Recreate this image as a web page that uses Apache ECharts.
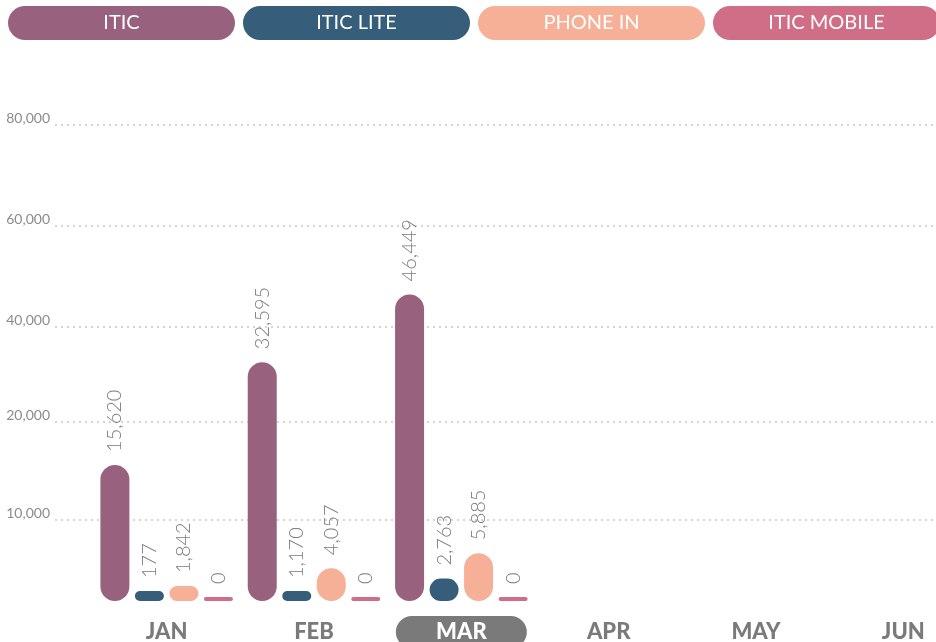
<!DOCTYPE html>
<html>
<head>
<meta charset="utf-8">
<script src="https://cdn.jsdelivr.net/npm/echarts@6/dist/echarts.min.js"></script>
<style>
    html, body { margin: 0; padding: 0; background: #fff; }
    #chart { width: 936px; height: 642px; }
</style>
</head>
<body>
<div id="chart"></div>
<script>
    const months = ['JAN', 'FEB', 'MAR', 'APR', 'MAY', 'JUN'];
    const seriesNames = ['ITIC', 'ITIC LITE', 'PHONE IN', 'ITIC MOBILE'];
    const itic = [15620, 32595, 46449];
    const iticLite = [177, 1170, 2763];
    const phoneIn = [1842, 4057, 5885];
    const iticMobile = [0, 0, 0];
    const yTickValues = [10000, 20000, 40000, 60000, 80000];
    const currentMonth = 'MAR';

    const colors = ['#98627f', '#365d7a', '#f6b097', '#cf6e86'];

    // the value axis is not linear: it is stretched piecewise between these stops
    const stops = [0, 10000, 20000, 40000, 60000, 80000];
    const stopPos = [0, 0.81, 1.79, 2.74, 3.75, 4.76];
    const axisMax = stopPos[stopPos.length - 1];

    function toAxis(v) {
        for (let i = 1; i < stops.length; i++) {
            if (v <= stops[i]) {
                const t = (v - stops[i - 1]) / (stops[i] - stops[i - 1]);
                return stopPos[i - 1] + t * (stopPos[i] - stopPos[i - 1]);
            }
        }
        return axisMax;
    }

    function fromAxis(p) {
        for (let i = 0; i < stopPos.length; i++) {
            if (Math.abs(stopPos[i] - p) < 1e-6) return stops[i];
        }
        return null;
    }

    const fmt = v => v.toLocaleString('en-US');

    var chart = echarts.init(document.getElementById('chart'));

    function barSeries(name, values, color, minHeight) {
        return {
            name: name,
            type: 'bar',
            xAxisIndex: 1,
            yAxisIndex: 1,
            barWidth: 29,
            barGap: '19%',
            barMinHeight: minHeight,
            data: values.map(v => ({ value: toAxis(v), raw: v })),
            itemStyle: { color: color, borderRadius: 14.5 },
            label: {
                show: true,
                position: 'top',
                distance: 13,
                rotate: 90,
                align: 'left',
                verticalAlign: 'middle',
                color: '#7a7a7a',
                fontSize: 20,
                fontWeight: 300,
                formatter: p => fmt(p.data.raw)
            }
        };
    }

    const rich = {};
    colors.forEach((c, i) => {
        rich['p' + i] = {
            backgroundColor: c,
            color: '#fff',
            width: 227,
            height: 34,
            lineHeight: 34,
            borderRadius: 17,
            align: 'center',
            fontSize: 20,
            fontWeight: 'normal'
        };
    });

    var option = {
        animation: false,
        textStyle: { fontFamily: 'Lato' },
        legend: {
            left: 3,
            top: 6,
            padding: 0,
            width: 1000,
            itemGap: 3,
            itemWidth: 0,
            itemHeight: 0,
            selectedMode: false,
            data: seriesNames,
            formatter: name => '{p' + seriesNames.indexOf(name) + '|' + name + '}',
            textStyle: { rich: rich }
        },
        grid: [
            // grid for the dotted value lines and labels
            { left: 55, right: 0, top: 125, bottom: 41, outerBoundsMode: 'none' },
            // grid for the bars, it runs past the right edge
            { left: 93, width: 884, top: 125, bottom: 41, outerBoundsMode: 'none' }
        ],
        xAxis: [
            { gridIndex: 0, type: 'value', show: false },
            {
                gridIndex: 1,
                type: 'category',
                data: months,
                axisLine: { show: false },
                axisTick: { show: false },
                axisLabel: {
                    interval: 0,
                    margin: 15,
                    formatter: v => v === currentMonth ? '{hl|' + v + '}' : '{m|' + v + '}',
                    rich: {
                        m: { color: '#7a7a7a', fontSize: 22, fontWeight: 900, height: 32, lineHeight: 32 },
                        hl: {
                            color: '#fff', fontSize: 22, fontWeight: 900, height: 32, lineHeight: 32,
                            width: 131, align: 'center', borderRadius: 16, backgroundColor: '#7a7a7a'
                        }
                    }
                }
            }
        ],
        yAxis: [
            {
                gridIndex: 0,
                type: 'value',
                min: 0,
                max: axisMax,
                axisLine: { show: false },
                axisTick: { show: false, customValues: yTickValues.map(toAxis) },
                axisLabel: {
                    customValues: yTickValues.map(toAxis),
                    formatter: p => fmt(fromAxis(p)),
                    color: '#8c8c8c',
                    fontSize: 14,
                    margin: 5,
                    verticalAlign: 'bottom'
                },
                splitLine: {
                    show: true,
                    lineStyle: { color: '#c8c8c8', width: 1.5, type: [2, 4] }
                }
            },
            { gridIndex: 1, type: 'value', min: 0, max: axisMax, show: false, splitLine: { show: false } }
        ],
        series: [
            barSeries(seriesNames[0], itic, colors[0], 4),
            barSeries(seriesNames[1], iticLite, colors[1], 10),
            barSeries(seriesNames[2], phoneIn, colors[2], 14),
            barSeries(seriesNames[3], iticMobile, colors[3], 4)
        ]
    };

    chart.setOption(option);
</script>
</body>
</html>
